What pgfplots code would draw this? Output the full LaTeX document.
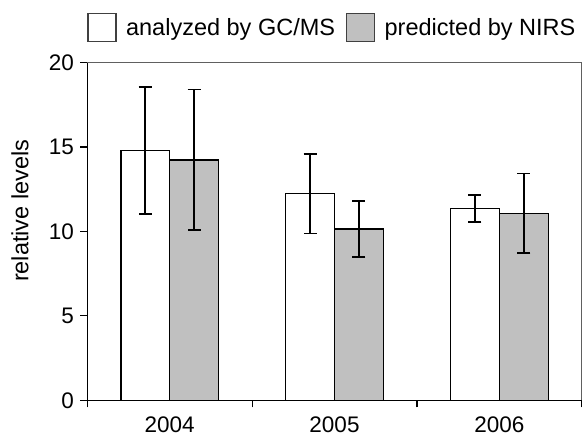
\documentclass[border=0pt]{standalone}
\usepackage{pgfplots}
\pgfplotsset{compat=1.18}
\usepackage{fontspec}
\setmainfont{Liberation Sans}
\definecolor{barGray}{HTML}{C0C0C0}
\definecolor{frameGray}{HTML}{606060}

\pgfplotsset{
  errstyle/.style={
    error bars/.cd, y dir=both, y explicit,
    error bar style={line width=1.5bp, black},
    error mark options={line width=1.5bp, black, mark size=6.5bp, rotate=90},
  },
}

\begin{document}
\begin{tikzpicture}
\useasboundingbox (0bp,0bp) rectangle (583bp,441bp);
\begin{axis}[
  at={(87.3bp,40.7bp)}, anchor=south west,
  scale only axis, width=494.4bp, height=337.6bp,
  xmin=0.5, xmax=3.5, ymin=0, ymax=20,
  axis x line*=bottom, axis y line*=left,
  axis line style={line width=1.4bp, black},
  tick align=outside,
  ytick={0,5,10,15,20},
  major tick length=7bp,
  tick style={line width=1.2bp, black},
  xtick={1,2,3},
  xticklabels={2004,2005,2006},
  major x tick style={draw=none},
  minor xtick={0.5,1.5,2.5,3.5},
  minor tick length=7bp,
  minor x tick style={line width=1.2bp, black},
  /pgf/number format/assume math mode=true,
  tick label style={font=\fontsize{22.5bp}{26bp}\selectfont},
  yticklabel style={xshift=-3bp},
  xticklabel style={yshift=-6bp},
  ylabel={relative levels},
  every axis y label/.style={at={(axis description cs:-0.1193,0.5613)},
    rotate=90, anchor=base, font=\fontsize{23.5bp}{27bp}\selectfont},
  ybar, bar width=0.297,
  legend columns=2,
  legend style={draw=none, fill=none, at={(axis description cs:0,1)},
    anchor=south west, yshift=20bp, inner sep=0pt,
    nodes={inner sep=0pt, font=\fontsize{23.5bp}{27bp}\selectfont},
    column sep=9.5bp,
    /tikz/every even column/.append style={column sep=11bp}},
  legend image code/.code={\draw[#1, line width=1.1bp, draw=black!75] (0bp,-14bp) rectangle (28bp,14bp);},
  after end axis/.code={
    \draw[frameGray, line width=1.2bp] (rel axis cs:0,1) -- (rel axis cs:1,1) -- (rel axis cs:1,0);
  },
]
% GC/MS reference analysis
\addplot[fill=white, draw=black, line width=1.5bp, bar shift=-0.1485, errstyle]
  coordinates {(1,14.8) +- (0,3.77) (2,12.24) +- (0,2.35) (3,11.35) +- (0,0.8)};
% NIRS prediction
\addplot[fill=barGray, draw=black, line width=1.5bp, bar shift=0.1485, errstyle]
  coordinates {(1,14.25) +- (0,4.15) (2,10.15) +- (0,1.65) (3,11.08) +- (0,2.35)};
\legend{analyzed by GC/MS, predicted by NIRS}
\end{axis}
\end{tikzpicture}
\end{document}
